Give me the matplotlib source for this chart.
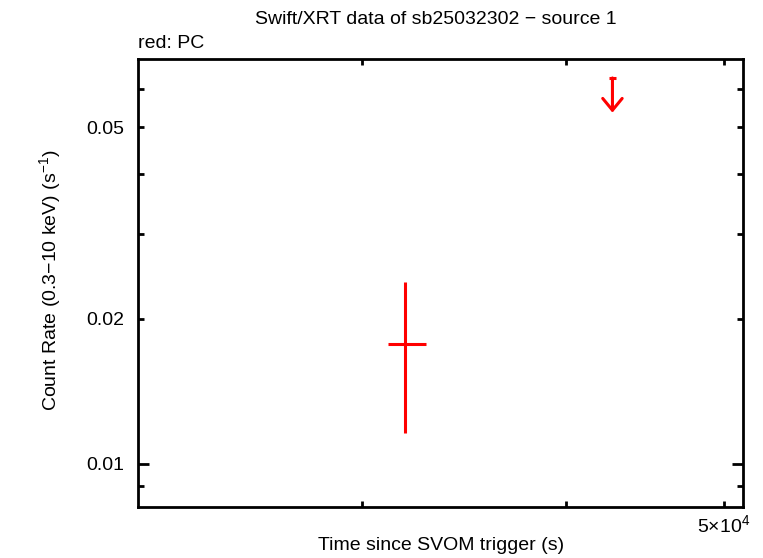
import matplotlib
matplotlib.use("Agg")
import matplotlib.pyplot as plt
from matplotlib.ticker import FixedLocator, FixedFormatter

plt.rcParams['font.family'] = ['Liberation Sans', 'DejaVu Sans']
plt.rcParams['mathtext.fontset'] = 'custom'
plt.rcParams['mathtext.rm'] = 'Liberation Sans'
plt.rcParams['mathtext.it'] = 'Liberation Sans'

# Data (PC mode)
pc_time = [31860]
pc_time_lo = [770]
pc_time_hi = [950]
pc_rate = [0.01775]
pc_rate_lo = [0.01775 - 0.0116]
pc_rate_hi = [0.02386 - 0.01775]

ul_time = [42710]
ul_time_err = [220]
ul_rate = [0.0632]

title = "Swift/XRT data of sb25032302 \u2212 source 1"
xlabel = "Time since SVOM trigger (s)"
ylabel = "Count Rate (0.3\u221210 keV) (s$^{-1}$)"

x_minor = [3e4, 4e4, 5e4]
x_labels = {5e4: "5\u00d710$^{4}$"}
y_major = [0.01]
y_minor = [0.009, 0.02, 0.03, 0.04, 0.05, 0.06]
y_labels = {0.01: "0.01", 0.02: "0.02", 0.05: "0.05"}

FS = 14
W, H = 763, 558
fig = plt.figure(figsize=(W/100, H/100), dpi=100)
ax = fig.add_axes([138/W, 1-507/H, (743-138)/W, (507-59)/H])
ax.set_xscale('log')
ax.set_yscale('log')
ax.set_xlim(21850, 51360)
ax.set_ylim(0.00814, 0.0692)

red = '#ff0000'
ax.errorbar(pc_time, pc_rate, xerr=[pc_time_lo, pc_time_hi],
            yerr=[pc_rate_lo, pc_rate_hi], fmt='none', ecolor=red,
            elinewidth=2.2, capsize=0)

# upper limit: cap + arrow
ax.errorbar(ul_time, ul_rate, xerr=[ul_time_err], fmt='none', ecolor=red,
            elinewidth=2.2, capsize=0)
for t, r in zip(ul_time, ul_rate):
    ax.annotate('', xy=(t, r / 1.18), xytext=(t, r),
                arrowprops=dict(arrowstyle='->,head_length=0.85,head_width=0.7',
                                color=red, lw=2.2, shrinkA=0, shrinkB=0,
                                mutation_scale=10))

# ticks
ax.xaxis.set_major_locator(FixedLocator([]))
ax.xaxis.set_minor_locator(FixedLocator(x_minor))
ax.xaxis.set_minor_formatter(FixedFormatter([x_labels.get(v, "") for v in x_minor]))
ax.yaxis.set_major_locator(FixedLocator(y_major))
ax.yaxis.set_major_formatter(FixedFormatter([y_labels.get(v, "") for v in y_major]))
ax.yaxis.set_minor_locator(FixedLocator(y_minor))
ax.yaxis.set_minor_formatter(FixedFormatter([y_labels.get(v, "") for v in y_minor]))

ax.tick_params(which='both', direction='in', top=True, right=True,
               labelsize=FS, width=2, color='black')
ax.tick_params(which='major', length=8)
ax.tick_params(which='minor', length=4)
ax.tick_params(axis='y', which='both', pad=10)
ax.tick_params(axis='x', which='both', pad=5)

for s in ax.spines.values():
    s.set_linewidth(2)

fig.text(441/W, 1-546/H, xlabel, ha='center', va='center', fontsize=FS)
fig.text(50/W, 1-280/H, ylabel, ha='center', va='center', fontsize=FS, rotation=90)
fig.text(436/W, 1-20/H, title, ha='center', va='center', fontsize=FS)
fig.text(138/W, 1-43/H, "red: PC", ha='left', va='center', fontsize=FS)

fig.savefig('out.png', dpi=100)
